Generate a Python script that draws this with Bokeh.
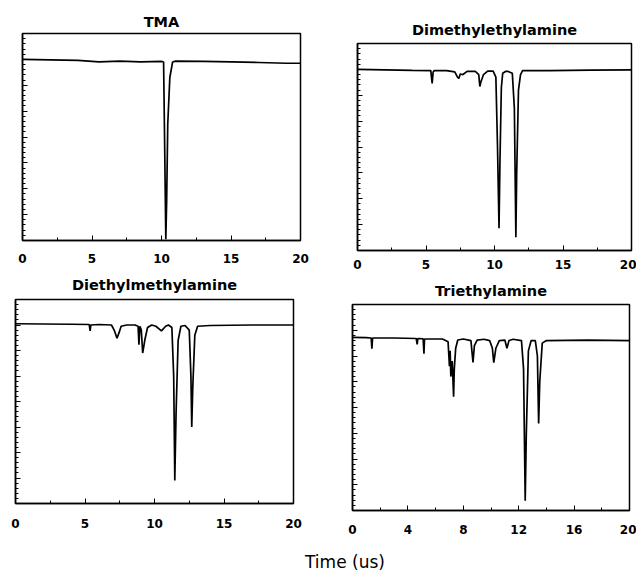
from bokeh.plotting import figure
from bokeh.layouts import column, row
from bokeh.models import Div, Range1d, FixedTicker, SingleIntervalTicker, Spacer, CustomLabelingPolicy
from bokeh.embed import file_html
from bokeh.resources import INLINE

# ---- data (time in us, signal in arbitrary units) ----
titles = ["TMA", "Dimethylethylamine", "Diethylmethylamine", "Triethylamine"]

tma_t = [0, 2, 4, 5.5, 7, 8.5, 10.0, 10.15, 10.22, 10.31, 10.37, 10.45, 10.6, 10.8, 11, 13, 15, 17, 19, 20]
tma_y = [7.0, 6.98, 6.96, 6.9, 6.93, 6.9, 6.92, 6.9, 4.0, 0.05, 1.5, 4.5, 6.3, 6.9, 6.93, 6.92, 6.9, 6.88, 6.85, 6.85]

dmea_t = [0, 2, 4, 5.35, 5.45, 5.52, 5.6, 6.5, 7.1, 7.3, 7.4, 7.5, 7.7, 8.0, 8.6, 8.85, 8.93, 9.0, 9.2, 9.5,
          9.9, 10.1, 10.22, 10.33, 10.4, 10.5, 10.6, 10.8, 11.0, 11.3, 11.45, 11.56, 11.62, 11.75, 11.9, 12.05,
          14, 17, 20]
dmea_y = [7.0, 6.98, 6.96, 6.95, 6.46, 6.9, 6.95, 6.95, 6.9, 6.7, 6.65, 6.82, 6.8, 6.92, 6.92, 6.8, 6.34, 6.5, 6.8, 6.93,
          6.93, 6.7, 4.0, 0.86, 3.5, 6.3, 6.85, 6.92, 6.92, 6.85, 5.5, 0.51, 3.0, 6.2, 6.8, 6.95,
          6.95, 6.97, 6.98]

demea_t = [0, 2, 4, 5.3, 5.37, 5.42, 6, 6.9, 7.1, 7.3, 7.45, 7.6, 8.0, 8.6, 8.82, 8.88, 8.95, 9.05, 9.15, 9.3,
           9.5, 9.8, 10.1, 10.5, 10.8, 11.0, 11.25, 11.38, 11.46, 11.55, 11.7, 11.9, 12.2, 12.5, 12.62, 12.68,
           12.75, 12.9, 13.1, 14, 17, 20]
demea_y = [7.05, 7.04, 7.03, 7.02, 6.77, 7.0, 7.02, 7.0, 6.8, 6.48, 6.7, 6.95, 7.0, 7.0, 6.95, 6.23, 6.95, 6.8, 5.9, 6.4,
           6.9, 7.0, 6.95, 6.77, 6.95, 7.0, 6.9, 5.0, 0.9, 3.5, 6.4, 6.95, 6.98, 6.8, 5.0, 3.0,
           4.5, 6.6, 6.95, 6.98, 7.0, 7.0]

tea_t = [0, 1, 1.35, 1.4, 1.45, 3, 4.6, 4.67, 4.72, 5.1, 5.16, 5.2, 6.5, 6.9, 7.0, 7.05, 7.1, 7.2, 7.3, 7.35,
         7.45, 7.6, 8.0, 8.55, 8.7, 8.8, 9.0, 9.5, 9.9, 10.1, 10.2, 10.35, 10.6, 11.0, 11.15, 11.3, 11.6, 12.2,
         12.35, 12.47, 12.55, 12.7, 12.9, 13.2, 13.35, 13.44, 13.52, 13.7, 14, 17, 20]
tea_y = [6.72, 6.71, 6.7, 6.28, 6.7, 6.7, 6.68, 6.45, 6.68, 6.67, 6.09, 6.66, 6.66, 6.55, 5.6, 6.2, 5.2, 5.8, 4.42, 5.5,
         6.3, 6.62, 6.66, 6.6, 5.75, 6.4, 6.62, 6.65, 6.6, 6.3, 5.74, 6.3, 6.6, 6.62, 6.3, 6.6, 6.65, 6.6,
         5.5, 0.38, 3.0, 6.2, 6.6, 6.6, 6.0, 3.38, 5.0, 6.5, 6.6, 6.62, 6.6]

ticks_5 = [0, 5, 10, 15, 20]
minor_5 = [2.5, 7.5, 12.5, 17.5]
ticks_4 = [0, 4, 8, 12, 16, 20]
minor_4 = [2, 6, 10, 14, 18]


def panel(title, t, y, ticks, minor, w, h, mbl, mbr, mbt, mbb, title_standoff, standoff):
    p = figure(width=w, height=h, output_backend="svg", toolbar_location=None,
               x_range=Range1d(0, 20), y_range=Range1d(0, 8),
               min_border_left=mbl, min_border_right=mbr, min_border_top=mbt, min_border_bottom=mbb,
               background_fill_color="white", border_fill_color="white")
    p.title.text = title
    p.title.align = "center"
    p.title.text_font = "DejaVu Sans"
    p.title.text_font_style = "bold"
    p.title.text_font_size = "14.5px"
    p.title.text_color = "black"
    p.title.standoff = title_standoff
    p.line(t, y, line_color="black", line_width=1.7)
    p.xgrid.visible = False
    p.ygrid.visible = False
    p.outline_line_color = "black"
    p.outline_line_width = 1.5
    p.outline_line_alpha = 1.0

    xa = p.xaxis[0]
    xa.ticker = FixedTicker(ticks=ticks, minor_ticks=minor)
    xa.major_tick_in = 5
    xa.major_tick_out = 0
    xa.minor_tick_in = 3
    xa.minor_tick_out = 0
    xa.major_label_standoff = standoff
    xa.major_label_text_font = "DejaVu Sans"
    xa.major_label_text_font_style = "bold"
    xa.major_label_text_font_size = "12px"
    xa.major_label_text_color = "black"
    xa.axis_line_width = 1.5
    xa.axis_line_color = "black"

    ya = p.yaxis[0]
    ya.ticker = SingleIntervalTicker(interval=1, num_minor_ticks=5)
    ya.major_tick_in = 5
    ya.major_tick_out = 0
    ya.minor_tick_in = 3
    ya.minor_tick_out = 0
    ya.major_label_standoff = 0
    ya.major_label_policy = CustomLabelingPolicy(code="return new Set()")
    ya.axis_line_width = 1.5
    ya.axis_line_color = "black"
    return p


f1 = panel(titles[0], tma_t, tma_y, ticks_5, minor_5, 326, 268, 22, 26, 33, 28, 8, 13)
f3 = panel(titles[2], demea_t, demea_y, ticks_5, minor_5, 326, 272, 15, 33, 30, 37, 13, 15)
f2 = panel(titles[1], dmea_t, dmea_y, ticks_5, minor_5, 310, 264, 31, 5, 33, 24, 12, 9)
f4 = panel(titles[3], tea_t, tea_y, ticks_4, minor_4, 310, 266, 26, 7, 30, 30, 12, 14)

xlabel = Div(text='<div style="position:absolute; left:300px; top:9px; font-family:\'DejaVu Sans\'; '
                  'font-size:17px; line-height:17px; color:black; white-space:nowrap;">Time (us)</div>',
             width=636, height=28)

left = column(f1, row(f3))
right = column(Spacer(width=310, height=10), f2, row(f4))
layout = column(row(left, right), xlabel)

open("out.html", "w").write(file_html(layout, INLINE))
